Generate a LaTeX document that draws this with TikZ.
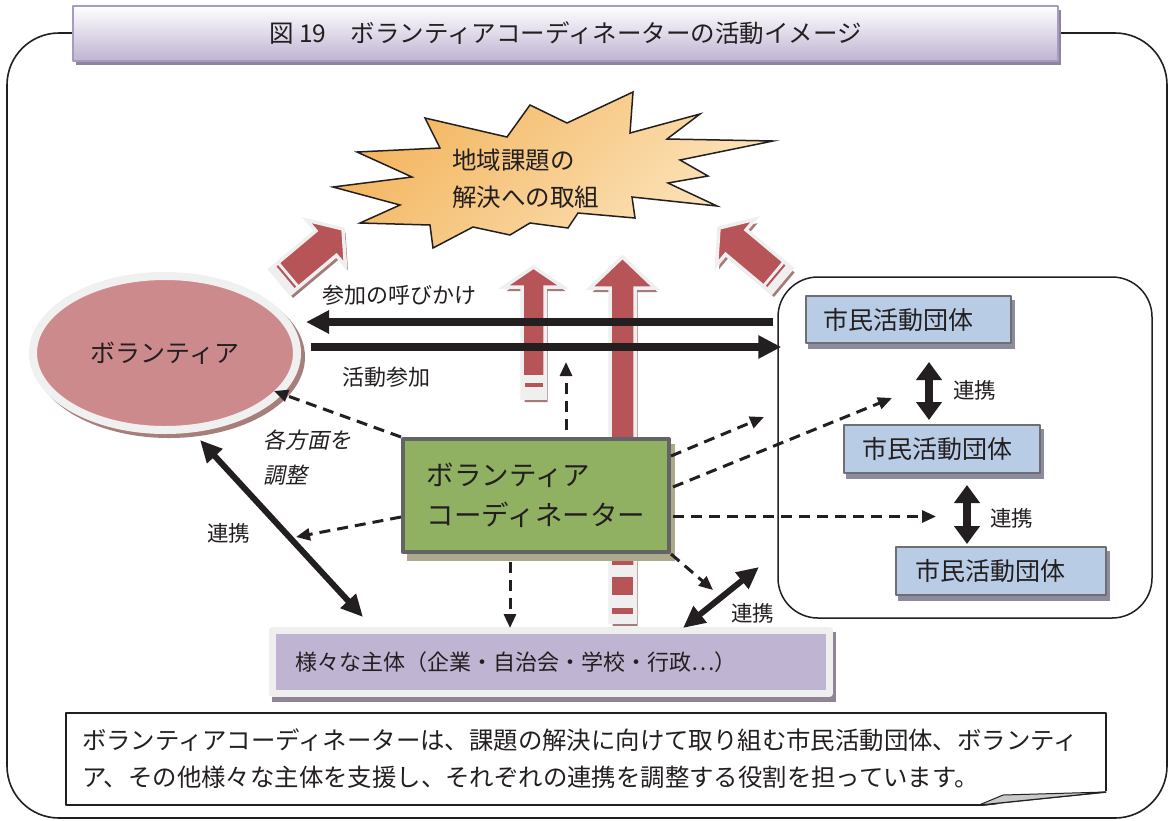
\documentclass[tikz,border=0pt]{standalone}
\usepackage{fontspec}
\setmainfont{Noto Sans CJK JP}
\newfontfamily\slantjp[FakeSlant=0.2]{Noto Sans CJK JP}
\usetikzlibrary{arrows.meta,shapes.geometric,calc}
\definecolor{ink}{HTML}{231F20}
\definecolor{titlebot}{HTML}{BFB3D2}
\definecolor{titleborder}{HTML}{A69CC3}
\definecolor{titleshadow}{HTML}{8F8498}
\definecolor{starA}{HTML}{F3B55E}
\definecolor{starB}{HTML}{FCE5BE}
\definecolor{redarrow}{HTML}{B75458}
\definecolor{redrim}{HTML}{EFEFEF}
\definecolor{redshadow}{HTML}{A37C77}
\definecolor{volpink}{HTML}{CD8A8D}
\definecolor{volrim}{HTML}{F0F0F0}
\definecolor{volshadow}{HTML}{A67F7B}
\definecolor{coordgreen}{HTML}{90B062}
\definecolor{coordborder}{HTML}{626466}
\definecolor{coordshadow}{HTML}{ACAA8A}
\definecolor{bluefill}{HTML}{B8CDE5}
\definecolor{blueborder}{HTML}{6E6F71}
\definecolor{blueshadow}{HTML}{8C8CA1}
\definecolor{orgfill}{HTML}{BFB4D1}
\definecolor{orgrim}{HTML}{EFEFEF}
\definecolor{orgshadow}{HTML}{8F8597}
\definecolor{foldgray}{HTML}{C9C9C9}

\newcommand\RedShape[5]{\path[#1] (0,-#3/2) -- (#2-#5,-#3/2) -- (#2-#5,-#4/2) -- (#2,0) -- (#2-#5,#4/2) -- (#2-#5,#3/2) -- (0,#3/2) -- cycle;}
\newcommand\RedArrow[8]{%
  \begin{scope}[shift={(#1+2.5,#2+4)},rotate=#3]\RedShape{fill=redshadow}{#4}{#5}{#6}{#7}\end{scope}%
  \begin{scope}[shift={(#1,#2)},rotate=#3]%
    \RedShape{fill=redarrow,draw=redrim,line width=3.5,line join=miter}{#4}{#5}{#6}{#7}%
    \path[fill=redrim] (0,-#5/2) rectangle (#8,#5/2);%
  \end{scope}}

\tikzset{
  bigarrow/.style={draw=ink, line width=8, -{Triangle[length=23pt,width=22pt]}},
  dasharr/.style={draw=ink, line width=3, dash pattern=on 11pt off 7pt, -{Triangle[length=14pt,width=12pt]}},
  linkdiag/.style={draw=ink, line width=6, {Triangle[length=22pt,width=20pt]}-{Triangle[length=22pt,width=20pt]}},
  linkvert/.style={draw=ink, line width=8, {Triangle[length=18pt,width=25pt]}-{Triangle[length=18pt,width=25pt]}},
  lbl/.style={anchor=west, inner sep=0, text=ink, font=\fontsize{22}{26}\selectfont},
  bluebox/.style={rectangle, fill=bluefill, draw=blueborder, line width=2, inner sep=0, align=left, text=ink, font=\fontsize{25}{30}\selectfont},
}

\begin{document}
\begin{tikzpicture}[x=1pt,y=-1pt,line join=round]
\useasboundingbox (0,0) rectangle (1172,820);
\fill[white] (0,0) rectangle (1172,820);

% outer frame
\draw[ink, line width=1.6, rounded corners=52] (7,33) rectangle (1167,818);

% title
\fill[titleshadow] (76,10) rectangle (1061,65);
\node[rectangle, minimum width=985, minimum height=55, inner sep=0, top color=white, bottom color=titlebot, draw=titleborder, line width=2, text=ink, font=\fontsize{24.5}{30}\selectfont] (title) at (565.5,33.5) {図 19　ボランティアコーディネーターの活動イメージ};

% starburst
\path[draw=ink, line width=1.5, line join=miter, top color=starA, bottom color=starB, shading angle=45]
 (425,118) -- (507,137) -- (530,105) -- (567,123) -- (633,92) -- (630,133) -- (700,114) -- (667,139) -- (773,141) -- (680,160) -- (708,176) -- (668,183) -- (717,206) -- (632,197) -- (635,218) -- (578,213) -- (568,228) -- (530,223) -- (510,235) -- (473,227) -- (433,248) -- (430,225) -- (360,223) -- (400,205) -- (333,187) -- (412,177) -- (357,152) -- (440,148) -- cycle;
\node[anchor=west, align=left, inner sep=0, text=ink, font=\fontsize{24.5}{37}\selectfont] (goal) at (452,178.5) {地域課題の\\解決への取組};

% red block arrows
\RedArrow{280.2}{281.7}{40}{82}{32}{60}{22}{12}
\begin{scope}[shift={(280.2,281.7)},rotate=40]\fill[redarrow] (7,-14) rectangle (9,14);\end{scope}
\RedArrow{781.8}{280.7}{140}{82}{32}{60}{22}{12}
\begin{scope}[shift={(781.8,280.7)},rotate=140]\fill[redarrow] (7,-14) rectangle (9,14);\end{scope}
\RedArrow{533.5}{398}{90}{131}{23}{59}{20}{23}
\begin{scope}[shift={(533.5,398)},rotate=90]\fill[redarrow] (11,-9) rectangle (15,9);\end{scope}
\RedArrow{622.5}{622}{90}{365}{25}{65}{31}{57}
\begin{scope}[shift={(622.5,622)},rotate=90]
  \fill[redarrow] (27,-10.5) rectangle (45,10.5);
  \fill[redarrow] (8,-10.5) rectangle (14,10.5);
\end{scope}

% group frame
\node[draw=ink, line width=1.5, rounded corners=40, minimum width=374, minimum height=341, inner sep=0] (grp) at (965,447.5) {};

% volunteer ellipse
\fill[volshadow] (169,357) ellipse [x radius=136, y radius=81];
\node[ellipse, fill=volpink, draw=volrim, line width=8, minimum width=264, minimum height=154, inner sep=0, text=ink, font=\fontsize{25}{30}\selectfont] (vol) at (165,353) {ボランティア};

% thick arrows
\coordinate (callE) at (306,322);
\coordinate (joinS) at (311,347);
\draw[bigarrow] ([xshift=-4]grp.west |- callE) -- (callE);
\draw[bigarrow] (joinS) -- ([xshift=4]grp.west |- joinS);

% citizen group boxes
\fill[blueshadow] (808,300) rectangle (1015,349);
\node[bluebox, minimum width=205, minimum height=47, text width=171] (c1) at (908.5,319.5) {市民活動団体};
\fill[blueshadow] (846,429) rectangle (1044,479);
\node[bluebox, minimum width=196, minimum height=48, text width=160] (c2) at (942,449) {市民活動団体};
\fill[blueshadow] (898,551) rectangle (1110,601);
\node[bluebox, minimum width=210, minimum height=48, text width=172] (c3) at (1001,571) {市民活動団体};

% coordinator
\fill[coordshadow] (407,444) rectangle (675,561);
\node[rectangle, fill=coordgreen, draw=coordborder, line width=4, minimum width=266, minimum height=113, inner sep=0, align=left, text=ink, font=\fontsize{27.5}{40}\selectfont] (coord) at (536,495.5) {ボランティア\\コーディネーター};

% various actors
\fill[orgshadow] (272,632) rectangle (836,702);
\node[rectangle, fill=orgfill, draw=orgrim, line width=7, minimum width=557, minimum height=63, inner sep=0, text width=511, align=left, text=ink, font=\fontsize{22}{26}\selectfont] (org) at (551,662) {様々な主体（企業・自治会・学校・行政…）};

% dashed arrows from coordinator
\coordinate (d1e) at (274,391);
\coordinate (d2e) at (566,362);
\coordinate (d3e) at (296,537);
\coordinate (d4e) at (510,628);
\coordinate (d5e) at (713,590);
\coordinate (d6e) at (892,398);
\coordinate (d7e) at (764,417);
\coordinate (d8e) at (936,516.5);
\draw[dasharr] (coord.north west) -- (d1e);
\draw[dasharr] ($(coord.north)+(30,-7)$) -- (d2e);
\draw[dasharr] ($(coord.west)+(0,21.5)$) -- (d3e);
\draw[dasharr] ($(coord.south)+(-26,8)$) -- (d4e);
\draw[dasharr] (coord.south east) -- (d5e);
\draw[dasharr] ($(coord.east)+(2,-8.5)$) -- (d6e);
\draw[dasharr] ($(coord.east)+(0,-39.5)$) -- (d7e);
\draw[dasharr] ($(coord.east)+(2,21)$) -- (d8e);

% cooperation arrows
\coordinate (r1a) at (200,440);
\coordinate (r1b) at (363,617);
\coordinate (r2a) at (683,628);
\coordinate (r2b) at (759,567);
\coordinate (r3a) at (929,362);
\coordinate (r3b) at (929,420);
\coordinate (r4a) at (967,485);
\coordinate (r4b) at (967,544);
\draw[linkdiag] (r1a) -- (r1b);
\draw[linkdiag] (r2a) -- (r2b);
\draw[linkvert] (r3a) -- (r3b);
\draw[linkvert] (r4a) -- (r4b);

% labels
\node[lbl] (lcall) at (322,295) {参加の呼びかけ};
\node[lbl] (ljoin) at (342,377) {活動参加};
\node[lbl, align=left, font=\slantjp\fontsize{22}{35}\selectfont] (ladj) at (263,457.5) {各方面を\\調整};
\node[lbl, font=\fontsize{21.5}{26}\selectfont] (lk1) at (207,533) {連携};
\node[lbl, font=\fontsize{21.5}{26}\selectfont] (lk2) at (731,613) {連携};
\node[lbl, font=\fontsize{21.5}{26}\selectfont] (lk3) at (953,390) {連携};
\node[lbl, font=\fontsize{21.5}{26}\selectfont] (lk4) at (990,518) {連携};

% note
\node[draw=ink, line width=1.5, fill=white, minimum width=1040, minimum height=92, inner sep=0, text width=1008, align=left, text=ink, font=\fontsize{24.4}{37}\selectfont] (note) at (586,759) {ボランティアコーディネーターは、課題の解決に向けて取り組む市民活動団体、ボランティ\\ア、その他様々な主体を支援し、それぞれの連携を調整する役割を担っています。};
\fill[white] (978,806.6) -- (1107.6,806.6) -- (1107.6,791) -- cycle;
\draw[ink, line width=1.5] (979,805) -- (1106,792);
\filldraw[fill=foldgray, draw=ink, line width=1] (979,805) -- (1003,795) -- (1106,792) -- cycle;
\end{tikzpicture}
\end{document}
